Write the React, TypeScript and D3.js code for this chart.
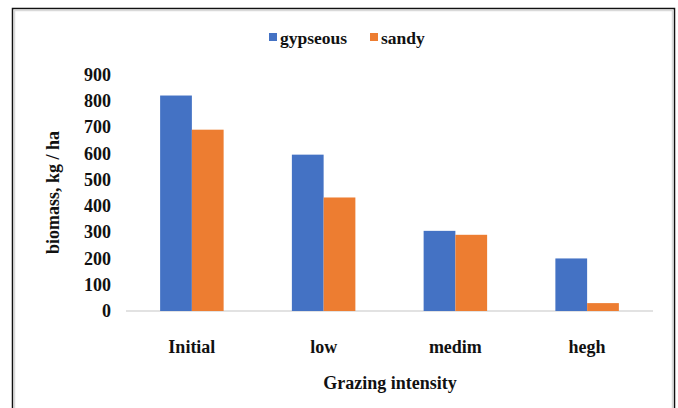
import React, { useEffect, useRef } from "react";
import * as d3 from "d3";

const categories = ["Initial", "low", "medim", "hegh"];
const seriesNames = ["gypseous", "sandy"];
const gypseous = [820, 595, 305, 200];
const sandy = [690, 432, 290, 30];
const yTicks = [0, 100, 200, 300, 400, 500, 600, 700, 800, 900];
const colors = ["#4472C4", "#ED7D31"];

function App() {
  const ref = useRef<SVGSVGElement>(null);

  useEffect(() => {
    const font = "'Liberation Serif', 'Times New Roman', serif";
    const svg = d3.select(ref.current);
    svg.selectAll("*").remove();

    // frame
    svg.append("rect")
      .attr("x", 12.5).attr("y", 8.5).attr("width", 662).attr("height", 410)
      .attr("fill", "white").attr("stroke", "#111").attr("stroke-width", 1.5);
    svg.append("rect")
      .attr("x", 14.5).attr("y", 10.5).attr("width", 658).attr("height", 410)
      .attr("fill", "none").attr("stroke", "#d9d9d9").attr("stroke-width", 1.5);

    const x = d3.scaleBand().domain(categories).range([126, 653]).padding(0);
    const y = d3.scaleLinear().domain([0, 900]).range([311, 74.5]);
    const barW = x.bandwidth() * 0.241;

    // axis line
    svg.append("line")
      .attr("x1", 126).attr("x2", 653).attr("y1", y(0)).attr("y2", y(0))
      .attr("stroke", "#d9d9d9").attr("stroke-width", 1.5);

    const series = [gypseous, sandy];
    series.forEach((vals, si) => {
      svg.append("g")
        .attr("fill", colors[si])
        .selectAll("rect")
        .data(vals)
        .enter()
        .append("rect")
        .attr("x", (d, i) => (x(categories[i]) as number) + x.bandwidth() / 2 - barW + si * barW)
        .attr("y", d => y(d))
        .attr("width", barW)
        .attr("height", d => y(0) - y(d));
    });

    // y tick labels
    svg.append("g")
      .selectAll("text")
      .data(yTicks)
      .enter()
      .append("text")
      .attr("x", 111)
      .attr("y", d => y(d))
      .attr("dy", "0.35em")
      .attr("text-anchor", "end")
      .attr("font-family", font)
      .attr("font-weight", "bold")
      .attr("font-size", 18)
      .attr("fill", "#111")
      .text(d => d);

    // x tick labels
    svg.append("g")
      .selectAll("text")
      .data(categories)
      .enter()
      .append("text")
      .attr("x", d => (x(d) as number) + x.bandwidth() / 2)
      .attr("y", 347)
      .attr("dy", "0.35em")
      .attr("text-anchor", "middle")
      .attr("font-family", font)
      .attr("font-weight", "bold")
      .attr("font-size", 18)
      .attr("fill", "#111")
      .text(d => d);

    // axis titles
    svg.append("text")
      .attr("x", 390).attr("y", 382.5).attr("dy", "0.35em")
      .attr("text-anchor", "middle")
      .attr("font-family", font).attr("font-weight", "bold").attr("font-size", 18)
      .attr("fill", "#111")
      .text("Grazing intensity");

    svg.append("text")
      .attr("transform", "translate(53, 192.5) rotate(-90)")
      .attr("dy", "0.35em")
      .attr("text-anchor", "middle")
      .attr("font-family", font).attr("font-weight", "bold").attr("font-size", 18)
      .attr("fill", "#111")
      .text("biomass, kg / ha");

    // legend
    const legendX = [269, 370];
    seriesNames.forEach((name, i) => {
      svg.append("rect")
        .attr("x", legendX[i]).attr("y", 33).attr("width", 8).attr("height", 8)
        .attr("fill", colors[i]);
      svg.append("text")
        .attr("x", legendX[i] + 11).attr("y", 37.5).attr("dy", "0.35em")
        .attr("font-family", font).attr("font-weight", "bold").attr("font-size", 17.5)
        .attr("fill", "#111")
        .text(name);
    });
  }, []);

  return (
    <div style={{ position: "absolute", left: 0, top: 0 }}>
      <svg ref={ref} width={678} height={408} style={{ display: "block" }} />
    </div>
  );
}

export default App;
